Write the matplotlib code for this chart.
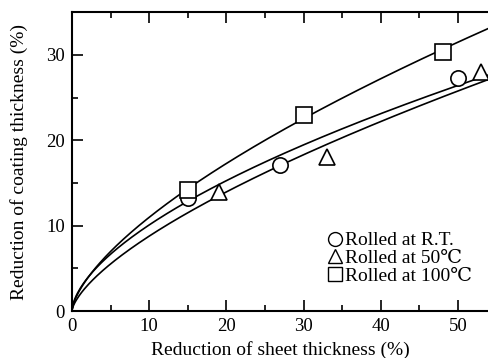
import numpy as np
import matplotlib
matplotlib.use("Agg")
import matplotlib.pyplot as plt
from matplotlib.lines import Line2D
from matplotlib.ticker import MultipleLocator

plt.rcParams['font.family'] = ['Liberation Serif', 'DejaVu Serif']

# data
rt_x = [15, 27, 50]
rt_y = [13.3, 17.1, 27.3]
c50_x = [19, 33, 53]
c50_y = [14.0, 18.0, 28.0]
c100_x = [15, 30, 48]
c100_y = [14.2, 23.0, 30.3]
labels = ["Rolled at R.T.", "Rolled at 50\u2103", "Rolled at 100\u2103"]

fig = plt.figure(figsize=(4.89, 3.58), dpi=100)
ax = fig.add_axes([0.147, 0.131, 0.853, 0.835])

xs = np.linspace(0.01, 54, 300)
series = [(rt_x, rt_y, 'o'), (c50_x, c50_y, '^'), (c100_x, c100_y, 's')]
for x, y, m in series:
    # power-law fit y = a * x^b
    b, lna = np.polyfit(np.log(x), np.log(y), 1)
    ax.plot(np.r_[0, xs], np.r_[0, np.exp(lna) * xs ** b], color='black', lw=1.2, zorder=2)
    ax.plot(x, y, m, ms=11 if m != '^' else 12, mfc='white', mec='black', mew=1.2,
            clip_on=False, zorder=3, ls='none')

ax.set_xlim(0, 54)
ax.set_ylim(0, 35)
ax.xaxis.set_major_locator(MultipleLocator(10))
ax.xaxis.set_minor_locator(MultipleLocator(5))
ax.yaxis.set_major_locator(MultipleLocator(10))
ax.yaxis.set_minor_locator(MultipleLocator(5))
ax.tick_params(which='both', direction='in', top=True, right=False, labelsize=13.5, width=1.2)
ax.tick_params(which='major', length=8, pad=5)
ax.tick_params(which='minor', length=4)
for s in ['left', 'bottom', 'top']:
    ax.spines[s].set_linewidth(1.5)
ax.spines['right'].set_visible(False)

ax.set_xlabel("Reduction of sheet thickness (%)", fontsize=14, labelpad=4)
ax.set_ylabel("Reduction of coating thickness (%)", fontsize=14, labelpad=13)

handles = [Line2D([], [], marker=m, ls='none', ms=10, mfc='white', mec='black', mew=1.0)
           for m in ['o', '^', 's']]
ax.legend(handles, labels, loc='upper left', bbox_to_anchor=(0.612, 0.265), frameon=False,
          fontsize=14, handlelength=0.8, handletextpad=0.1, labelspacing=0.0,
          borderaxespad=0, borderpad=0)

fig.savefig("out.png", dpi=100)
